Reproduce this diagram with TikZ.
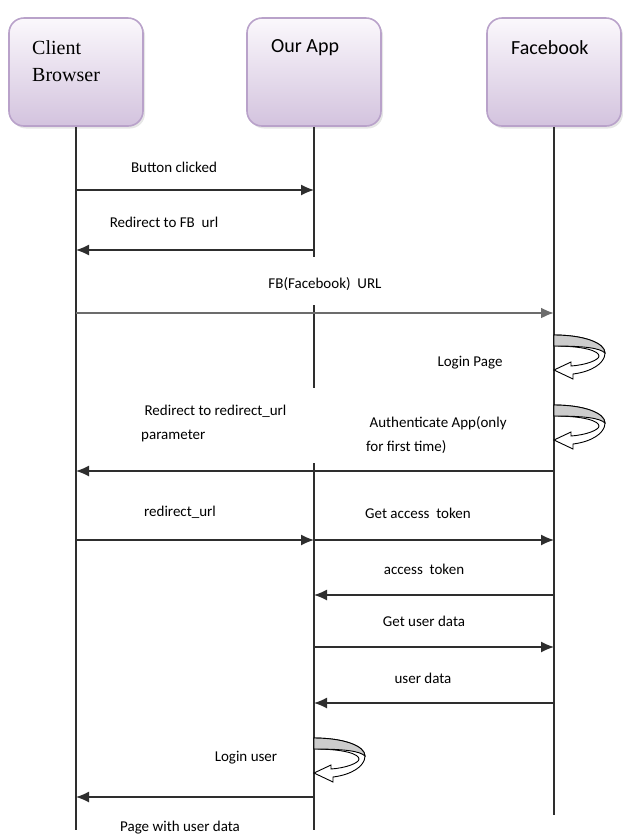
\documentclass[tikz,border=0pt]{standalone}
\usepackage{fontspec}
\setmainfont{Carlito}
\newfontfamily\serifname{Liberation Serif}
\usetikzlibrary{arrows.meta, shadows}

\definecolor{lavtop}{HTML}{FBF8FC}
\definecolor{lavbot}{HTML}{D3C3DE}
\definecolor{lavedge}{HTML}{B9A2CA}
\definecolor{lineclr}{HTML}{2E2E2E}

\tikzset{
  actorbox/.style={rectangle, rounded corners=15pt, draw=lavedge, line width=1.6pt,
    top color=lavtop, bottom color=lavbot, minimum width=134pt, minimum height=108pt,
    drop shadow={opacity=0.2, shadow xshift=2pt, shadow yshift=-2.5pt}},
  actorname/.style={anchor=west, inner sep=0pt, align=left, font=\fontsize{20}{27}\selectfont},
  lifeline/.style={draw=lineclr, line width=1.3pt},
  msg/.style={draw=lineclr, line width=1.3pt, -{Latex[length=13pt, width=11pt]}},
  msglabel/.style={inner sep=0pt, font=\fontsize{15}{24}\selectfont, align=left}
}

\newcommand{\selfloop}[1]{%
  \begin{scope}[shift={(#1)}, line width=0.9pt]
    \filldraw[fill=white]
      (0,0) .. controls (30,0) and (51,8) .. (51,18)
      .. controls (51,29) and (36,37) .. (19,39) -- (19,44) -- (0,35) -- (17,27) -- (17,31)
      .. controls (32,30) and (45,25) .. (45,21)
      .. controls (45,16) and (30,11) .. (0,11) -- cycle;
    \filldraw[fill=gray!40]
      (0,0) .. controls (30,0) and (51,8) .. (51,18)
      .. controls (46,13) and (30,11) .. (0,11) -- cycle;
  \end{scope}}

\begin{document}
\begin{tikzpicture}[x=1pt, y=-1pt]
  \useasboundingbox (0,0) rectangle (622,839);

  % participants
  \node[actorbox] (client) at (76,72) {};
  \node[actorbox] (app) at (314,72) {};
  \node[actorbox] (fb) at (554,72) {};
  \node[actorname, font=\serifname\fontsize{20}{27}\selectfont] (clientname) at (32,61) {Client\\Browser};
  \node[actorname] (appname) at (271,48) {Our App};
  \node[actorname] (fbname) at (511,48) {Facebook};

  % lifelines
  \coordinate (clientend) at (76,830);
  \coordinate (appcut1) at (314,257);
  \coordinate (appgo2) at (314,305);
  \coordinate (appcut2) at (314,388);
  \coordinate (appgo3) at (314,463);
  \coordinate (append) at (314,830);
  \coordinate (fbend) at (554,815);
  \draw[lifeline] (client.south) -- (clientend);
  \draw[lifeline] (app.south) -- (appcut1);
  \draw[lifeline] (appgo2) -- (appcut2);
  \draw[lifeline] (appgo3) -- (append);
  \draw[lifeline] (fb.south) -- (fbend);

  % messages
  \foreach \y/\from/\to in {190/client/app, 250/app/client, 471/fb/client,
      540/client/app, 540/app/fb, 595/fb/app, 647/app/fb, 703/fb/app, 797/app/client}
    { \draw[msg] (\from.south |- 0,\y) -- (\to.south |- 0,\y); }
  \draw[msg, draw=gray!85!black, line width=2.2pt] (client.south |- 0,313) -- (fb.south |- 0,313);

  % self calls
  \coordinate (loginpage) at (554,335);
  \coordinate (authapp) at (554,405);
  \coordinate (loginuser) at (314,738);
  \selfloop{loginpage}
  \selfloop{authapp}
  \selfloop{loginuser}

  % labels
  \node[msglabel] (l1) at (174,167) {Button clicked};
  \node[msglabel] (l2) at (164,222) {Redirect to FB\ \ url};
  \node[msglabel] (l3) at (325,284) {FB(Facebook)\ \ URL};
  \node[msglabel] (l4) at (470,363) {Login Page};
  \node[msglabel, anchor=west] (l5) at (366,435) {\ Authenticate App(only\\for first time)};
  \node[msglabel, anchor=west] (l6) at (141,423) {\ Redirect to redirect\_url\\parameter};
  \node[msglabel] (l7) at (180,512) {redirect\_url};
  \node[msglabel] (l8) at (418,513) {Get access\ \ token};
  \node[msglabel] (l9) at (424,569) {access\ \ token};
  \node[msglabel] (l10) at (424,621) {Get user data};
  \node[msglabel] (l11) at (423,678) {user data};
  \node[msglabel] (l12) at (246,758) {Login user};
  \node[msglabel] (l13) at (180,828) {Page with user data};
\end{tikzpicture}
\end{document}
